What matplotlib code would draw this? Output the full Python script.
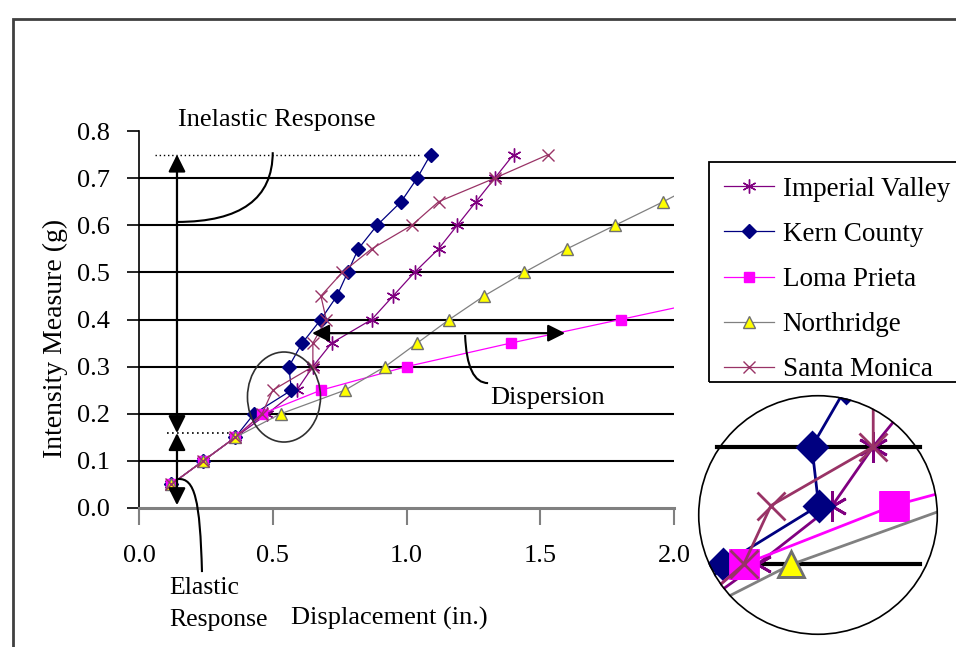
import numpy as np
import matplotlib
matplotlib.use("Agg")
from matplotlib import pyplot as plt
from matplotlib.patches import Ellipse, Circle, Rectangle, PathPatch
from matplotlib.path import Path

plt.rcParams['font.family'] = ['Liberation Serif', 'DejaVu Serif']

# Intensity levels (g) used for every record
im_levels = [0.05, 0.10, 0.15, 0.20, 0.25, 0.30, 0.35, 0.40, 0.45, 0.50, 0.55, 0.60, 0.65, 0.70, 0.75]

# Peak displacement (in.) at each intensity level
imperial_valley = [0.12, 0.24, 0.36, 0.48, 0.59, 0.65, 0.72, 0.87, 0.95, 1.03, 1.12, 1.19, 1.26, 1.33, 1.40]
kern_county = [0.12, 0.24, 0.36, 0.43, 0.57, 0.56, 0.61, 0.68, 0.74, 0.78, 0.82, 0.89, 0.98, 1.04, 1.09]
loma_prieta = [0.12, 0.24, 0.36, 0.46, 0.68, 1.00, 1.39, 1.80, 2.21]
northridge = [0.12, 0.24, 0.36, 0.53, 0.77, 0.92, 1.04, 1.16, 1.29, 1.44, 1.60, 1.78, 1.96, 2.13]
santa_monica = [0.12, 0.24, 0.36, 0.46, 0.50, 0.65, 0.65, 0.70, 0.68, 0.76, 0.87, 1.02, 1.12, 1.33, 1.53]

names = ['Imperial Valley', 'Kern County', 'Loma Prieta', 'Northridge', 'Santa Monica']
x_ticks = [0.0, 0.5, 1.0, 1.5, 2.0]
y_ticks = [0.0, 0.1, 0.2, 0.3, 0.4, 0.5, 0.6, 0.7, 0.8]

# line colour, marker, marker face, marker edge, marker size
styles = {
    'Imperial Valley': ('#800080', (6, 2, 0), '#800080', '#800080', 10),
    'Kern County': ('#000080', 'D', '#000080', '#000080', 7),
    'Loma Prieta': ('#FF00FF', 's', '#FF00FF', '#FF00FF', 7.5),
    'Northridge': ('#808080', '^', '#FFFF00', '#707070', 9),
    'Santa Monica': ('#993366', 'x', '#993366', '#993366', 9),
}
series = [imperial_valley, kern_county, loma_prieta, northridge, santa_monica]

fig = plt.figure(figsize=(9.56, 6.47), dpi=100)
fig.patch.set_facecolor('white')

# outer frame of the figure
fig.patches.append(Rectangle((13 / 956, -0.1), 1.2, 1.1 - 19 / 647, transform=fig.transFigure,
                             fill=False, edgecolor='#404040', linewidth=2))

ax = fig.add_axes([139 / 956, 1 - 508 / 647, 535 / 956, 377 / 647])
ax.set_xlim(0, 2.0)
ax.set_ylim(0, 0.8)

for y in y_ticks[1:-1]:
    ax.axhline(y, color='black', linewidth=1.5, zorder=1)

handles = []
for name, xs in zip(names, series):
    c, m, fc, ec, ms = styles[name]
    ln, = ax.plot(xs, im_levels[:len(xs)], color=c, linewidth=0.9, marker=m, markersize=ms,
                  markerfacecolor=fc, markeredgecolor=ec, markeredgewidth=1.0, zorder=3)
    handles.append(ln)

for side in ['top', 'right']:
    ax.spines[side].set_visible(False)
ax.spines['left'].set_color('black')
ax.spines['left'].set_linewidth(1.2)
ax.spines['bottom'].set_color('#808080')
ax.spines['bottom'].set_linewidth(2.2)

ax.set_xticks(x_ticks)
ax.set_xticklabels(['%.1f' % v for v in x_ticks])
ax.set_yticks(y_ticks)
ax.set_yticklabels(['%.1f' % v for v in y_ticks])
ax.tick_params(axis='y', direction='out', length=9, width=1.2, color='black', pad=12, labelsize=19)
ax.tick_params(axis='x', direction='out', length=12, width=1.5, color='#808080', pad=15, labelsize=19)

ax.set_xlabel('Displacement (in.)', fontsize=19)
ax.xaxis.set_label_coords(0.467, -0.292)
ax.xaxis.label.set_va('center')
ax.set_ylabel('Intensity Measure (g)', fontsize=20)
ax.yaxis.set_label_coords(-0.156, 0.451)
ax.yaxis.label.set_va('center')

# inelastic / elastic range markers
arrow_kw = dict(arrowstyle='<|-|>', color='black', lw=1.6, mutation_scale=26, shrinkA=0, shrinkB=0)
ax.annotate('', xy=(0.142, 0.75), xytext=(0.142, 0.159), arrowprops=arrow_kw, annotation_clip=False)
ax.annotate('', xy=(0.142, 0.006), xytext=(0.142, 0.159), arrowprops=arrow_kw, annotation_clip=False)
ax.plot([0.06, 1.05], [0.75, 0.75], color='black', linestyle=(0, (1, 2)), linewidth=1, zorder=2)
ax.plot([0.105, 0.39], [0.159, 0.159], color='black', linestyle=(0, (1, 2)), linewidth=1.2, zorder=2)
ax.plot([0.067, 0.33], [0.1, 0.1], color='black', linestyle=(0, (1, 2)), linewidth=1.2, zorder=2)

ax.text(0.146, 0.823, 'Inelastic Response', fontsize=19, va='center', ha='left',
        bbox=dict(facecolor='white', edgecolor='none', pad=2))
leader1 = Path([(0.142, 0.607), (0.50, 0.607), (0.50, 0.755)], [Path.MOVETO, Path.CURVE3, Path.CURVE3])
ax.add_patch(PathPatch(leader1, fill=False, edgecolor='black', linewidth=1.5, zorder=4))

leader2 = Path([(0.146, 0.0615), (0.209, 0.0637), (0.228, 0.017), (0.2355, -0.136)],
               [Path.MOVETO, Path.CURVE4, Path.CURVE4, Path.CURVE4])
ax.add_patch(PathPatch(leader2, fill=False, edgecolor='black', linewidth=1.5, zorder=4, clip_on=False))
ax.text(0.112, -0.170, 'Elastic', fontsize=18.5, va='center', ha='left')
ax.text(0.112, -0.2377, 'Response', fontsize=18.5, va='center', ha='left')

# dispersion at a single intensity level
ax.annotate('', xy=(0.647, 0.371), xytext=(1.593, 0.371), arrowprops=arrow_kw)
leader3 = Path([(1.219, 0.367), (1.226, 0.265), (1.305, 0.265)], [Path.MOVETO, Path.CURVE3, Path.CURVE3])
ax.add_patch(PathPatch(leader3, fill=False, edgecolor='black', linewidth=1.5, zorder=4))
ax.text(1.312, 0.233, 'Dispersion', fontsize=19, va='center', ha='left',
        bbox=dict(facecolor='white', edgecolor='none', pad=1))

ax.add_patch(Ellipse((0.542, 0.2355), 0.273, 0.191, fill=False, edgecolor='#303030', linewidth=1.2, zorder=5))

# legend entries without their own frame; the box is drawn separately
leg = ax.legend(handles, names, loc='upper left',
                bbox_to_anchor=(709 / 956, 1 - 162 / 647, (1010 - 709) / 956, 0.0),
                bbox_transform=fig.transFigure, mode='expand', fontsize=19.5, frameon=False,
                handlelength=1.85, handletextpad=0.32, labelspacing=0.74, borderpad=0.55,
                borderaxespad=0)
fig.patches.append(Rectangle((709 / 956, 1 - 382 / 647), 0.5, 220 / 647, transform=fig.transFigure,
                             fill=False, edgecolor='black', linewidth=1.3))

# magnified view of the circled region
ins = fig.add_axes([698 / 956, 1 - 635 / 647, 240 / 956, 240 / 647])
ins.set_xlim(0.393, 0.745)
ins.set_ylim(0.140, 0.344)
ins.set_axis_off()
disk = Circle((0.5, 0.5), 0.5, transform=ins.transAxes, facecolor='white', edgecolor='none', zorder=0)
ins.add_patch(disk)
for y in [0.2, 0.3]:
    ins.axhline(y, xmin=0.08, xmax=0.925, color='black', linewidth=3, zorder=1)
big = {'Imperial Valley': 22, 'Kern County': 15, 'Loma Prieta': 20, 'Northridge': 19, 'Santa Monica': 20}
for name, xs in zip(names, series):
    c, m, fc, ec, ms = styles[name]
    ln, = ins.plot(xs, im_levels[:len(xs)], color=c, linewidth=2, marker=m, markersize=big[name],
                   markerfacecolor=fc, markeredgecolor=ec, markeredgewidth=2, zorder=3)
    ln.set_clip_path(disk)
ins.add_patch(Circle((0.5, 0.5), 0.497, transform=ins.transAxes, fill=False, edgecolor='black',
                     linewidth=1.2, zorder=6, clip_on=False))

fig.savefig('out.png', dpi=100)
